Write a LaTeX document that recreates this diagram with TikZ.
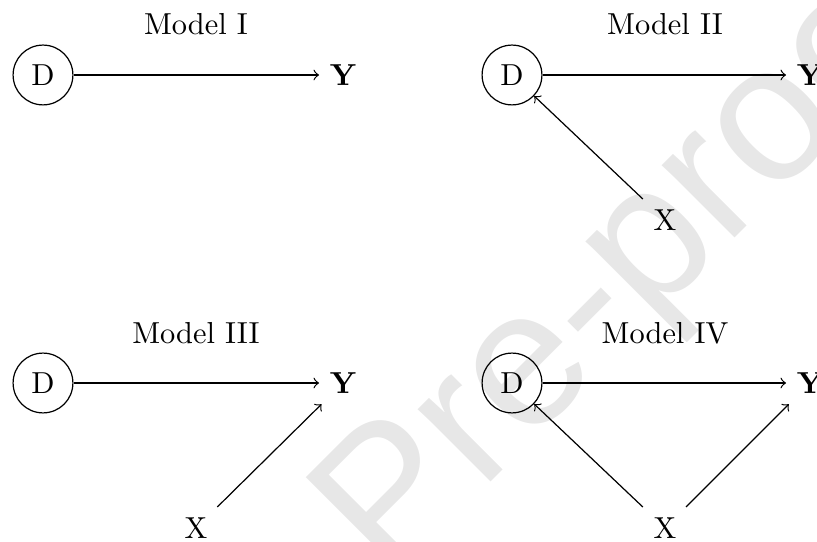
\documentclass[tikz,border=0pt]{standalone}
\usepackage{fontspec}
\newfontfamily\wmfont{Liberation Sans}
\begin{document}
\begin{tikzpicture}[x=0.3293pt,y=-0.3293pt,
  dnode/.style={circle,draw,minimum size=19.7pt,inner sep=0pt},
  plain/.style={inner sep=3.333pt},
  link/.style={->,line width=0.4pt},
  wm/.style={text=black!9.5,inner sep=0pt,font=\wmfont\fontsize{64}{70}\selectfont}]
\useasboundingbox (0,0) rectangle (817,542);
% light watermark in the background
\begin{scope}
  \clip (0,0) rectangle (817,542);
  \node[wm,anchor=base west,rotate=45] (mark) at (389,584) {Pre-proof};
\end{scope}

% Model I
\node (t1) at (196,24) {Model I};
\node[dnode] (d1) at (43,75) {D};
\node[plain] (y1) at (343,75) {\textbf{Y}};
\draw[link] (d1) -- (y1);

% Model II
\node (t2) at (665,24) {Model II};
\node[dnode] (d2) at (512,75) {D};
\node[plain] (y2) at (810,75) {\textbf{Y}};
\node[plain] (x2) at (665,220) {X};
\draw[link] (d2) -- (y2);
\draw[link] (x2) -- (d2);

% Model III
\node (t3) at (196,333) {Model III};
\node[dnode] (d3) at (43,383) {D};
\node[plain] (y3) at (343,383) {\textbf{Y}};
\node[plain] (x3) at (196,528) {X};
\draw[link] (d3) -- (y3);
\draw[link] (x3) -- (y3);

% Model IV
\node (t4) at (665,333) {Model IV};
\node[dnode] (d4) at (512,383) {D};
\node[plain] (y4) at (810,383) {\textbf{Y}};
\node[plain] (x4) at (665,528) {X};
\draw[link] (d4) -- (y4);
\draw[link] (x4) -- (d4);
\draw[link] (x4) -- (y4);
\end{tikzpicture}
\end{document}
